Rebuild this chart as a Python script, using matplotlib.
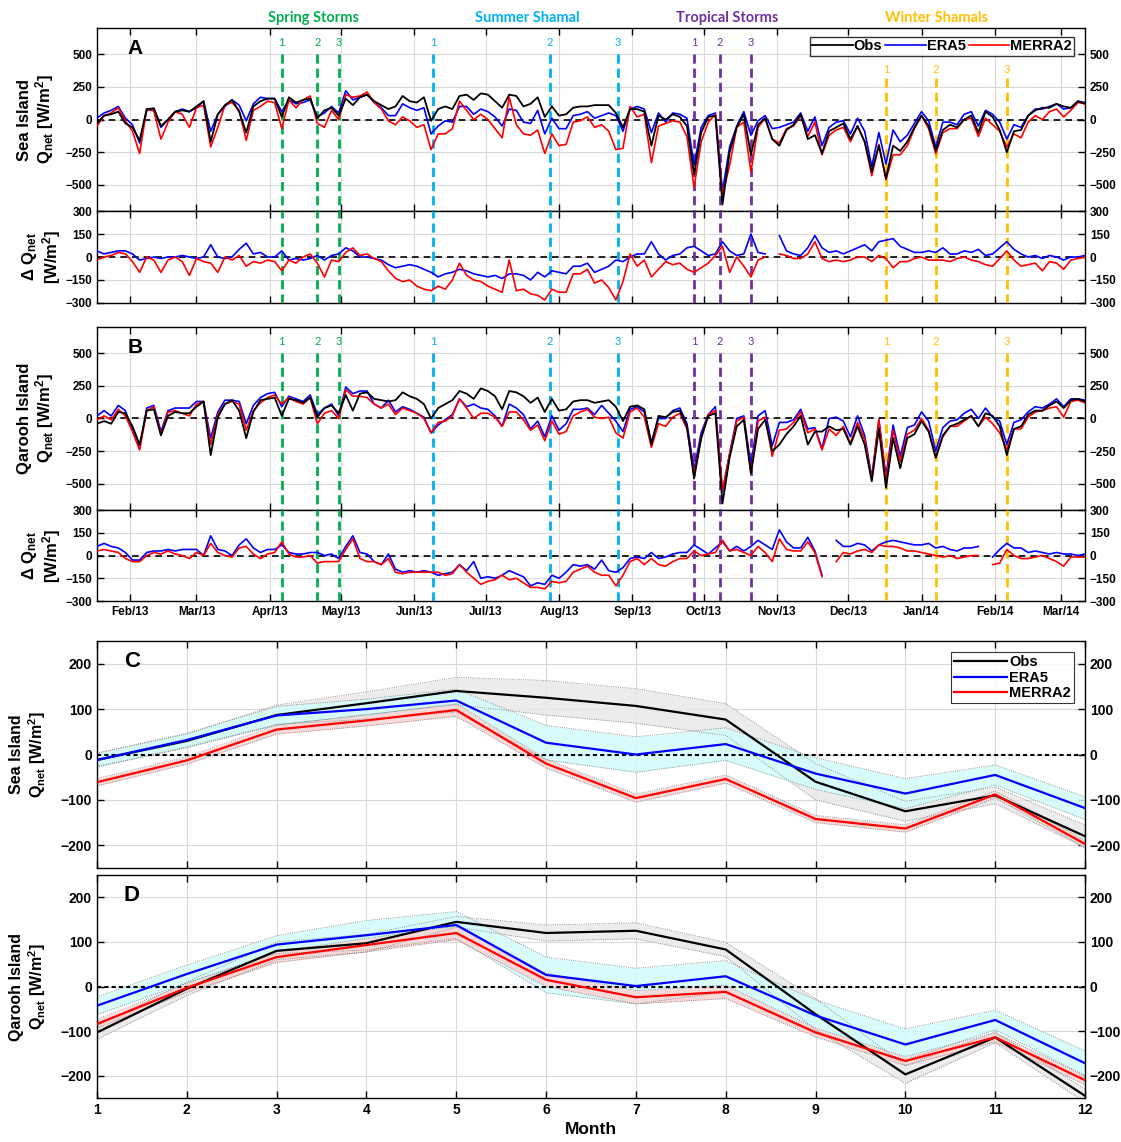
import numpy as np
import pandas as pd
import matplotlib
matplotlib.use("Agg")
import matplotlib.pyplot as plt
import matplotlib.dates as mdates
from matplotlib import font_manager

plt.rcParams['font.family'] = 'Liberation Sans'
plt.rcParams['font.weight'] = 'bold'
plt.rcParams['mathtext.fontset'] = 'custom'
plt.rcParams['mathtext.bf'] = 'Liberation Sans:bold'
plt.rcParams['mathtext.rm'] = 'Liberation Sans:bold'
plt.rcParams['mathtext.default'] = 'bf'
plt.rcParams['axes.linewidth'] = 1.0

names = {f.name for f in font_manager.fontManager.ttflist}
narrow = 'Liberation Sans Narrow' if 'Liberation Sans Narrow' in names else 'Liberation Sans'

# ---------------- daily series (3-day samples from 2013-01-18) ----------------
start_date = '2013-01-18'
end_date = '2014-03-11'

obs_a = [-30, 30, 40, 60, -30, -60, -160, 80, 85, -50,
         0, 60, 70, 60, 100, 140, -170, 40, 110, 150,
         60, -100, 100, 140, 160, 160, 20, 170, 130, 150,
         160, 10, 70, 90, 30, 160, 110, 170, 190, 140,
         110, 80, 100, 180, 140, 130, 170, -10, 80, 100,
         80, 180, 190, 150, 200, 190, 140, 90, 190, 180,
         100, 120, 170, 20, 100, 30, 40, 90, 100, 100,
         110, 110, 110, 50, -60, 80, 80, 60, -200, 30,
         0, 40, 20, -50, -420, -100, 20, 30, -650, -250,
         -60, 40, -270, -40, 10, -150, -200, -80, -40, 40,
         -150, -120, -260, -90, -60, -30, -150, -50, -170, -400,
         -200, -450, -200, -240, -170, -60, 30, -50, -240, -80,
         -40, -60, 0, 30, -100, 60, 20, -80, -250, -90,
         -80, 30, 70, 90, 90, 120, 100, 90, 140, 120]

dera_a = [40, 20, 30, 40, 40, 20, -20, -10, 0, -10,
          0, 0, 10, 0, -10, 0, 80, 0, -10, 0,
          50, 90, 20, 30, 0, 0, 40, -20, -10, -20,
          -10, 10, -20, 10, 20, 60, 40, 0, 0, -10,
          -20, -50, -70, -60, -50, -60, -80, -100, -130, -110,
          -100, -80, -90, -110, -120, -130, -120, -140, -110, -110,
          -120, -150, -100, -130, -90, -100, -110, -60, -60, -40,
          -100, -80, -60, -20, -30, 0, 20, 20, 100, 20,
          -20, 10, 20, 60, 70, 40, 10, 20, 100, 40,
          10, 20, 150, 30, 20, 80, 140, 40, 20, 10,
          60, 140, 60, 30, 40, 20, 40, 60, 80, 40,
          100, 110, 120, 70, 50, 30, 30, 40, 30, 60,
          20, 20, 40, 30, 50, 10, 20, 60, 100, 50,
          20, 0, 10, -10, 10, 0, -20, 0, 0, 10]

dmerra_a = [-20, 0, 10, 30, 20, -30, -100, 0, -20, -100,
            -20, 0, -30, -120, -10, -30, -40, -100, 0, -20,
            10, -60, -30, -40, -20, -30, -90, -20, -40, 0,
            20, -40, -130, -20, -30, 30, 60, 10, 20, -10,
            -30, -90, -140, -160, -150, -190, -210, -220, -190, -210,
            -150, -40, -120, -150, -160, -190, -210, -230, -20, -220,
            -210, -240, -250, -280, -210, -230, -230, -110, -110, -80,
            -170, -150, -200, -280, -160, 20, -60, -20, -130, -80,
            -30, -50, -40, -80, -100, -70, -40, 10, 70, -100,
            0, -60, -130, -20, 0, 0, 20, 10, -10, -10,
            20, 100, -10, -30, -20, -30, -20, 0, 0, -30,
            10, -10, -70, -30, -30, -10, 0, -20, -20, -20,
            -30, -10, 0, -20, -30, -50, -60, -10, 40, -20,
            -60, -50, -40, -90, -30, -40, -80, -20, -10, 0]

obs_b = [-40, -20, -40, 50, 40, -60, -200, 60, 70, -130,
         20, 50, 40, 40, 90, 130, -280, 10, 110, 140,
         60, -150, 50, 140, 150, 160, 20, 150, 140, 120,
         160, 10, 80, 100, 40, 180, 60, 190, 200, 150,
         140, 130, 140, 200, 170, 150, 110, 0, 80, 110,
         140, 210, 190, 150, 230, 210, 170, 70, 210, 200,
         170, 120, 160, 50, 150, 60, 70, 130, 140, 140,
         120, 130, 140, 90, -20, 90, 100, 70, -200, 20,
         10, 50, 60, -60, -460, -150, 20, 40, -650, -300,
         -60, -10, -420, -80, -10, -250, -200, -120, -60, 20,
         -200, -100, -100, -60, -90, -80, -200, -60, -200, -480,
         -80, -530, -150, -380, -150, -120, -20, -100, -300, -130,
         -60, -40, -10, 20, -60, 40, 20, -60, -280, -80,
         -60, 30, 60, 60, 100, 130, 80, 140, 150, 130]

dera_b = [60, 80, 60, 50, 20, -30, -30, 20, 30, 30,
          40, 30, 40, 40, 40, 0, 130, 40, 30, 0,
          70, 110, 50, 20, 40, 40, 70, 20, 10, 10,
          20, 20, 0, 10, -20, 60, 130, 20, 10, -40,
          -60, 10, -90, -110, -100, -110, -100, -110, -130, -120,
          -110, -60, -100, -40, -150, -140, -150, -130, -100, -120,
          -140, -200, -180, -190, -130, -150, -110, -60, -70, -60,
          -90, -30, -100, -110, -80, -20, -10, -20, 20, -20,
          -10, 10, 20, 20, 70, 40, 10, 50, 90, 30,
          60, 30, 60, 100, 70, 40, 170, 90, 50, 50,
          120, 30, -130, 60, 100, 60, 60, 80, 70, 30,
          70, 90, 100, 90, 80, 70, 70, 80, 50, 60,
          40, 30, 50, 50, 60, 40, -10, 40, 80, 50,
          50, 20, 30, 20, 10, 20, 10, 10, 0, 10]

dmerra_b = [30, 40, 30, 20, -20, -40, -40, 0, 20, 10,
            30, 10, 0, -20, 20, 0, 80, 20, 0, -10,
            50, 60, 10, -20, 10, 20, 90, 10, -10, -10,
            0, -50, -40, -40, -40, 40, 110, -20, -40, -40,
            -60, -20, -110, -120, -110, -110, -110, -110, -110, -130,
            -120, -60, -110, -150, -190, -170, -160, -130, -160, -150,
            -180, -210, -210, -220, -170, -180, -170, -110, -90, -70,
            -110, -130, -130, -200, -130, -40, -20, -60, -20, -60,
            -70, -40, -20, -20, 30, 0, 10, 20, 100, 30,
            40, 20, 0, 60, 20, -40, 110, 40, 30, 30,
            90, 20, -140, -20, -40, 20, 10, 30, 40, 20,
            70, 60, 60, 50, 30, 30, 20, 10, 0, -10,
            0, -20, -10, 0, 0, -30, -60, -50, 40, 0,
            -20, -20, -10, 0, -20, -40, -70, -10, -10, -10]

gap_a = [95]
gap_b = [103, 125]

spring_dates = ['2013-04-06', '2013-04-21', '2013-04-30']
summer_dates = ['2013-06-09', '2013-07-28', '2013-08-26']
tropical_dates = ['2013-09-27', '2013-10-08', '2013-10-21']
winter_dates = ['2013-12-17', '2014-01-07', '2014-02-06']
event_names = ['Spring Storms', 'Summer Shamal', 'Tropical Storms', 'Winter Shamals']
event_colors = ['#00B050', '#00B0F0', '#7030A0', '#FFC000']

# ---------------- monthly climatology ----------------
month = np.arange(1, 13)
c_obs = [-12, 30, 87, 113, 140, 125, 107, 77, -60, -125, -90, -180]
c_obs_sd = [15, 15, 22, 25, 30, 38, 38, 35, 40, 22, 18, 25]
c_era = [-12, 32, 86, 100, 119, 26, 0, 23, -42, -86, -45, -118]
c_era_sd = [15, 15, 20, 22, 25, 38, 39, 36, 35, 33, 22, 25]
c_merra = [-61, -13, 55, 75, 98, -20, -96, -54, -142, -163, -88, -197]
c_merra_sd = [8, 8, 10, 12, 14, 10, 9, 9, 8, 8, 8, 8]

d_obs = [-103, -5, 80, 97, 145, 120, 125, 83, -62, -197, -114, -245]
d_obs_sd = [15, 15, 20, 20, 12, 18, 18, 16, 35, 20, 12, 15]
d_era = [-43, 28, 94, 115, 138, 26, 1, 23, -65, -130, -75, -172]
d_era_sd = [20, 20, 20, 33, 30, 40, 40, 35, 35, 35, 22, 28]
d_merra = [-84, -3, 66, 93, 120, 15, -24, -12, -103, -167, -114, -210]
d_merra_sd = [10, 10, 12, 15, 15, 15, 15, 15, 10, 10, 10, 10]

# ---------------- figure ----------------
fig = plt.figure(figsize=(11.21, 11.42), dpi=100)
L, W = 0.0865, 0.8814
axA = fig.add_axes([L, 0.8152, W, 0.1603])
axdA = fig.add_axes([L, 0.7347, W, 0.0805])
axB = fig.add_axes([L, 0.5534, W, 0.1603])
axdB = fig.add_axes([L, 0.4737, W, 0.0797])
axC = fig.add_axes([L, 0.2399, W, 0.1988])
axD = fig.add_axes([L, 0.0385, W, 0.1953])

dates = pd.date_range(start_date, periods=len(obs_a), freq='3D')
x0 = mdates.date2num(pd.Timestamp(start_date))
x1 = mdates.date2num(pd.Timestamp(end_date))
event_sets = [spring_dates, summer_dates, tropical_dates, winter_dates]


def base_style(ax, ylim, yticks, zero_ls=(0, (4, 3)), zero_lw=1.2):
    ax.set_ylim(ylim)
    ax.set_yticks(yticks)
    ax.tick_params(axis='both', which='both', direction='in', top=True, right=True,
                   labelright=True, length=5, width=1, labelsize=8.5)
    ax.grid(True, color='#d9d9d9', lw=0.8)
    ax.set_axisbelow(True)
    ax.axhline(0, color='k', ls=zero_ls, lw=zero_lw, zorder=2)


def daily_axis(ax, show_labels):
    ax.set_xlim(x0, x1)
    ax.xaxis.set_major_locator(mdates.MonthLocator())
    ax.xaxis.set_major_formatter(mdates.DateFormatter('%b/%y'))
    if not show_labels:
        ax.tick_params(labelbottom=False)


def draw_events(ax, main, winter_top=False):
    for dl, col in zip(event_sets, event_colors):
        for i, d in enumerate(dl):
            xd = mdates.date2num(pd.Timestamp(d))
            if main:
                top, ty = 500, 590
                if winter_top and col == '#FFC000':
                    top, ty = 320, 385
                ax.plot([xd, xd], [top, -700], color=col, ls=(0, (3.3, 1.8)), lw=2.0, zorder=3)
                ax.text(xd, ty, str(i + 1), color=col, ha='center', va='center',
                        fontsize=8, family='Lato', weight='normal')
            else:
                ax.axvline(xd, color=col, ls=(0, (3.3, 1.8)), lw=2.0, zorder=3)


def main_panel(ax, obs, dera, dmer, letter, ylab, winter_top):
    obs = np.array(obs, float)
    era = obs + np.array(dera, float)
    mer = obs + np.array(dmer, float)
    base_style(ax, (-700, 700), [-500, -250, 0, 250, 500])
    daily_axis(ax, False)
    hb, = ax.plot(dates, era, color='#0000FF', lw=1.2, zorder=4)
    hr, = ax.plot(dates, mer, color='#FF0000', lw=1.2, zorder=4)
    hk, = ax.plot(dates, obs, color='k', lw=1.3, zorder=5)
    draw_events(ax, True, winter_top)
    ax.text(0.031, 0.89, letter, transform=ax.transAxes, fontsize=15,
            weight='bold', va='center')
    ax.set_ylabel(ylab, fontsize=12, fontweight='bold', linespacing=1.1)
    ax.yaxis.set_label_coords(-0.041, 0.5)
    return hk, hb, hr


def diff_panel(ax, dera, dmer, gaps, show_labels):
    de = np.array(dera, float)
    dm = np.array(dmer, float)
    de[gaps] = np.nan
    dm[gaps] = np.nan
    base_style(ax, (-300, 300), [-300, -150, 0, 150, 300])
    daily_axis(ax, show_labels)
    ax.plot(dates, de, color='#0000FF', lw=1.2, zorder=4)
    ax.plot(dates, dm, color='#FF0000', lw=1.2, zorder=4)
    draw_events(ax, False)
    ax.set_ylabel('Δ $Q_{net}$\n[W/m$^2$]', fontsize=12, fontweight='bold', linespacing=1.1)
    ax.yaxis.set_label_coords(-0.034, 0.5)


hk, hb, hr = main_panel(axA, obs_a, dera_a, dmerra_a, 'A', 'Sea Island\n$Q_{net}$ [W/m$^2$]', True)
diff_panel(axdA, dera_a, dmerra_a, gap_a, False)
main_panel(axB, obs_b, dera_b, dmerra_b, 'B', 'Qarooh Island\n$Q_{net}$ [W/m$^2$]', False)
diff_panel(axdB, dera_b, dmerra_b, gap_b, True)

leg = axA.legend([hk, hb, hr], ['Obs', 'ERA5', 'MERRA2'], ncol=3, loc='upper right',
                 bbox_to_anchor=(0.989, 0.95), frameon=True, fancybox=False,
                 edgecolor='k', handlelength=2.8, columnspacing=0.2, handletextpad=0.05,
                 borderpad=0.15, borderaxespad=0, prop={'weight': 'bold', 'size': 10.5})
leg.get_frame().set_linewidth(1.0)
leg.set_zorder(10)

# event group titles above panel A
title_x = [0.280, 0.470, 0.6485, 0.835]
for name, tx, col in zip(event_names, title_x, event_colors):
    fig.text(tx, 0.984, name, color=col, ha='center', va='center',
             fontsize=10.5, family='Lato', weight='bold')


def monthly_panel(ax, obs, obs_sd, era, era_sd, mer, mer_sd, letter, ylab):
    base_style(ax, (-250, 250), [-200, -100, 0, 100, 200], zero_ls=(0, (2, 1.5)), zero_lw=1.5)
    ax.set_xlim(1, 12)
    ax.set_xticks(month)
    series = [(obs, obs_sd, 'k', '#e9e9e9'), (era, era_sd, '#0000FF', '#d2fbfb'),
              (mer, mer_sd, '#FF0000', '#f9d3d3')]
    for m, s, lc, fc in series:
        m = np.array(m, float)
        s = np.array(s, float)
        ax.fill_between(month, m - s, m + s, color=fc, alpha=0.85, lw=0, zorder=1.5)
        ax.plot(month, m - s, color='#777777', ls=':', lw=0.6, zorder=1.6)
        ax.plot(month, m + s, color='#777777', ls=':', lw=0.6, zorder=1.6)
    hs = []
    for m, s, lc, fc in series:
        h, = ax.plot(month, m, color=lc, lw=1.6, zorder=4)
        hs.append(h)
    ax.text(0.027, 0.91, letter, transform=ax.transAxes, fontsize=16,
            weight='bold', va='center', family=narrow)
    ax.set_ylabel(ylab, fontsize=11.5, fontweight='bold', linespacing=1.1)
    ax.yaxis.set_label_coords(-0.05, 0.5)
    return hs


hs = monthly_panel(axC, c_obs, c_obs_sd, c_era, c_era_sd, c_merra, c_merra_sd,
                   'C', 'Sea Island\n$Q_{net}$ [W/m$^2$]')
axC.tick_params(labelbottom=False)
monthly_panel(axD, d_obs, d_obs_sd, d_era, d_era_sd, d_merra, d_merra_sd,
              'D', 'Qarooh Island\n$Q_{net}$ [W/m$^2$]')
axD.set_xlabel('Month', fontsize=12.5, fontweight='bold', family=narrow)

legC = axC.legend(hs, ['Obs', 'ERA5', 'MERRA2'], loc='upper right',
                  bbox_to_anchor=(0.989, 0.95), frameon=True, fancybox=False,
                  edgecolor='k', handlelength=3.6, handletextpad=0.2, borderpad=0.2,
                  labelspacing=0.1, borderaxespad=0,
                  prop={'weight': 'bold', 'size': 10.5, 'family': narrow})
legC.get_frame().set_linewidth(0.8)

for ax in (axC, axD):
    for t in ax.xaxis.get_major_ticks() + ax.yaxis.get_major_ticks():
        t.label1.set_fontfamily(narrow)
        t.label2.set_fontfamily(narrow)
        t.label1.set_fontsize(10)
        t.label2.set_fontsize(10)

fig.savefig('out.png', dpi=100)
